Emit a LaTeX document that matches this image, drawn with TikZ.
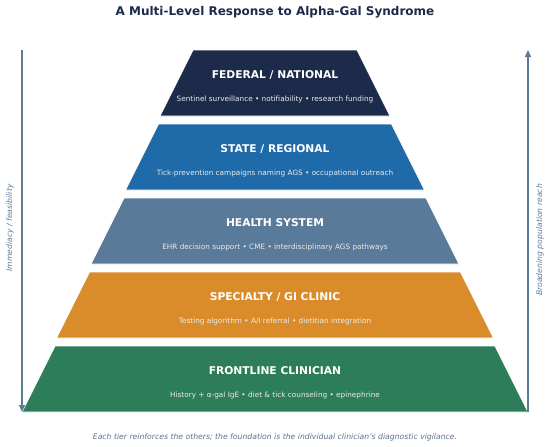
\documentclass[tikz,border=0pt]{standalone}
\usepackage{fontspec}
\setmainfont{DejaVu Sans}
\usetikzlibrary{arrows.meta}
\definecolor{navy}{HTML}{1C2B4A}
\definecolor{tstate}{HTML}{1F6AA8}
\definecolor{thealth}{HTML}{5A7A9A}
\definecolor{tspec}{HTML}{DA8C2A}
\definecolor{tfront}{HTML}{2E7D5A}
\definecolor{axis}{HTML}{5B7A9C}
\definecolor{foot}{HTML}{5A7090}
\tikzset{
  tier/.style={draw=white, line width=0.8pt},
  tiertitle/.style={text=white, font=\fontsize{10.7}{12}\selectfont\bfseries, inner sep=0},
  tiersub/.style={text=white!92!black, font=\fontsize{7.3}{8}\selectfont, inner sep=0},
  sidearrow/.style={draw=axis, line width=1.3pt, -{Triangle[length=7pt,width=6pt]}},
  sidelabel/.style={text=axis, font=\fontsize{7.7}{9}\selectfont\itshape, rotate=90, inner sep=0}
}
\begin{document}
\begin{tikzpicture}[x=1pt,y=-1pt]
\useasboundingbox (0,0) rectangle (550,447);
\node[text=navy, font=\fontsize{12}{14}\selectfont\bfseries, inner sep=0] (title) at (275,12) {A Multi-Level Response to Alpha-Gal Syndrome};
% tiers
\foreach \i/\col/\nm/\tt/\st in {
  0/navy/fed/{FEDERAL / NATIONAL}/{Sentinel surveillance • notifiability • research funding},
  1/tstate/sta/{STATE / REGIONAL}/{Tick-prevention campaigns naming AGS • occupational outreach},
  2/thealth/hea/{HEALTH SYSTEM}/{EHR decision support • CME • interdisciplinary AGS pathways},
  3/tspec/spe/{SPECIALTY / GI CLINIC}/{Testing algorithm • A/I referral • dietitian integration},
  4/tfront/fro/{FRONTLINE CLINICIAN}/{History + α-gal IgE • diet \& tick counseling • epinephrine}}{
  \pgfmathsetmacro{\yt}{50+74*\i}
  \pgfmathsetmacro{\yb}{\yt+66}
  \pgfmathsetmacro{\wt}{82+34.5*\i}
  \pgfmathsetmacro{\wb}{\wt+33}
  \fill[tier, fill=\col] (275-\wt,\yt) -- (275+\wt,\yt) -- (275+\wb,\yb) -- (275-\wb,\yb) -- cycle;
  \node[tiertitle] (\nm-t) at (275,\yt+25) {\tt};
  \node[tiersub] (\nm-s) at (275,\yt+49) {\st};
}
% side arrows
\coordinate (ltop) at (22,50);
\coordinate (lbot) at (22,412);
\coordinate (rbot) at (528,412);
\coordinate (rtop) at (528,50);
\draw[sidearrow] (ltop) -- (lbot);
\draw[sidearrow] (rbot) -- (rtop);
\node[sidelabel] (llab) at (10,228) {Immediacy / feasibility};
\node[sidelabel] (rlab) at (540,240) {Broadening population reach};
\node[text=foot, font=\fontsize{7.7}{9}\selectfont\itshape, inner sep=0] (footer) at (275,437) {Each tier reinforces the others; the foundation is the individual clinician's diagnostic vigilance.};
\end{tikzpicture}
\end{document}
